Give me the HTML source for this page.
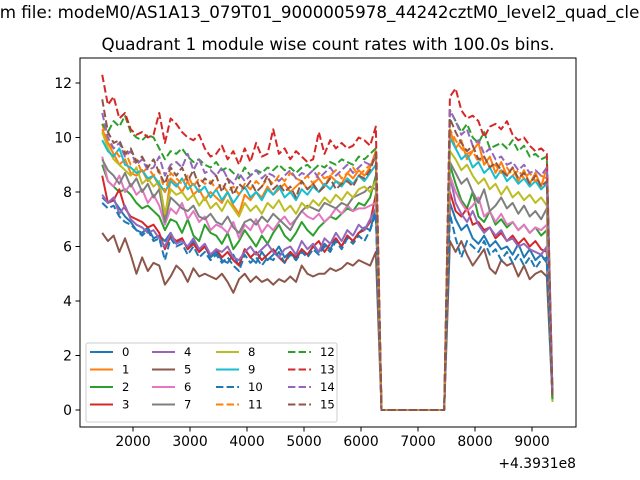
<!DOCTYPE html>
<html><head><meta charset="utf-8">
<style>
html,body{margin:0;padding:0;background:#fff;}
#wrap{position:relative;width:640px;height:480px;overflow:hidden;font-family:"DejaVu Sans","Liberation Sans",sans-serif;}
svg text{font-family:"DejaVu Sans","Liberation Sans",sans-serif;}
</style></head>
<body>
<div id="wrap">
<svg id="chart" width="640" height="480" viewBox="0 0 640 480">
<text id="suptitle" x="-87" y="18" font-size="16.7" text-anchor="start">Plotted from file: modeM0/AS1A13_079T01_9000005978_44242cztM0_level2_quad_clean.evt</text>
<text x="328" y="50" font-size="16.7" text-anchor="middle">Quadrant 1 module wise count rates with 100.0s bins.</text>
<defs><clipPath id="clip"><rect x="80" y="58" width="496" height="369"/></clipPath></defs>
<g id="series" clip-path="url(#clip)"></g>
<rect x="80" y="58" width="496" height="369" fill="none" stroke="#000" stroke-width="1"/>
<g id="xaxis"></g>
<g id="yaxis"></g>
<text x="576" y="468" font-size="13.9" text-anchor="end">+4.3931e8</text>
<g id="legend"></g>
</svg>
</div>
<script>
const tStart = 1460;
const tStep = 100;
const xTicks = [2000,3000,4000,5000,6000,7000,8000,9000];
const yTicks = [0,2,4,6,8,10,12];
const seriesNames = ["0","1","2","3","4","5","6","7","8","9","10","11","12","13","14","15"];
const gapZeros = 12;
const pre0=[7.8,7.6,7.7,7.4,7.1,6.9,6.6,6.5,6.7,6.3,6.4,6.2,6.5,6.1,6.3,5.9,6.2,5.8,6.0,5.6,5.8,5.5,5.4,5.7,5.3,5.9,5.6,5.4,5.8,5.5,5.7,6.0,5.6,5.8,5.5,5.9,5.7,6.0,5.8,6.1,5.9,6.3,6.0,6.4,6.2,6.5,6.7,6.6,7.4];
const post0=[7.6,7.0,6.6,6.8,6.3,6.1,6.4,6.0,6.2,5.9,6.0,5.7,6.1,5.6,5.9,5.5,5.7,5.4,0.5];
const pre1=[10.3,9.8,9.4,9.0,9.2,8.7,8.6,8.8,8.4,8.6,8.2,7.0,8.5,8.3,8.0,8.4,7.9,8.1,7.7,8.0,7.8,7.6,8.0,7.5,7.2,7.9,7.7,8.0,7.8,8.2,7.9,8.1,8.3,8.0,8.2,8.4,8.1,8.3,8.5,8.2,8.6,8.4,8.3,8.7,8.5,8.8,8.6,8.9,9.5];
const post1=[10.3,9.6,9.9,9.2,9.5,9.8,9.0,9.3,8.7,9.1,8.6,8.9,8.4,8.8,8.3,8.7,8.2,8.9,0.5];
const pre2=[9.0,8.4,8.2,8.0,8.1,7.9,7.6,7.4,7.5,7.3,7.1,6.6,7.0,6.9,6.5,7.0,6.4,6.2,6.8,6.5,6.4,6.1,6.5,5.9,6.2,6.6,6.3,6.0,6.4,6.1,6.5,6.8,6.4,6.2,6.5,6.9,6.6,6.4,6.7,6.9,7.1,7.0,7.2,7.4,7.3,7.6,7.5,7.8,8.6];
const post2=[9.0,8.3,7.7,7.4,8.0,7.1,6.9,7.3,6.8,7.0,6.7,6.9,6.6,6.8,6.5,6.7,6.4,6.6,0.4];
const pre3=[8.6,7.6,7.7,8.1,7.4,7.1,7.0,6.9,6.7,6.8,6.5,5.9,6.4,6.2,6.3,5.9,6.1,5.8,6.0,5.7,5.9,5.6,5.8,5.5,5.3,5.9,5.6,5.8,5.5,5.7,5.9,5.6,5.4,5.8,5.6,5.9,5.7,6.0,6.2,5.8,6.1,6.3,6.0,6.4,6.2,6.5,6.6,6.9,7.9];
const post3=[8.0,7.3,7.1,7.4,6.8,6.9,6.6,6.7,6.3,6.5,6.2,6.4,6.1,6.3,6.0,6.2,5.9,5.8,0.4];
const pre4=[7.9,7.6,7.8,7.2,7.5,7.0,6.8,6.7,6.5,6.6,6.3,6.0,6.5,6.1,6.2,6.0,6.3,5.9,6.1,5.7,5.9,5.8,6.0,5.6,5.5,5.8,6.0,5.7,5.9,6.1,5.8,5.6,5.9,6.0,5.7,6.2,5.9,6.1,5.8,6.3,6.1,6.5,6.2,6.6,6.4,6.8,6.6,7.0,7.4];
const post4=[8.6,7.6,7.2,6.9,7.3,6.8,6.5,6.7,6.4,6.6,6.2,6.3,6.0,6.1,5.9,5.8,5.7,6.0,0.5];
const pre5=[6.5,6.2,6.4,5.8,6.3,5.7,5.0,5.6,5.1,5.4,5.3,4.6,4.9,5.3,5.1,4.7,5.2,4.9,5.0,4.9,4.8,5.0,4.7,4.3,4.8,5.0,4.7,4.9,4.7,4.8,4.6,4.8,4.7,4.9,4.7,5.3,5.0,4.9,5.0,5.0,5.2,5.1,5.2,5.4,5.3,5.5,5.4,5.3,5.8];
const post5=[6.2,5.8,6.2,5.7,5.3,5.6,5.9,5.2,5.0,5.5,5.3,5.4,4.9,5.3,4.8,5.0,5.1,4.9,0.4];
const pre6=[9.3,8.4,8.2,8.6,8.0,8.3,7.9,8.1,7.6,7.9,7.5,6.8,7.4,7.2,7.6,7.0,7.3,6.9,7.1,6.6,6.8,6.7,6.5,6.9,6.3,6.8,6.6,7.0,6.5,6.8,6.6,6.9,7.1,6.8,7.0,7.3,7.1,7.0,7.2,6.9,7.1,7.4,7.2,7.5,7.3,7.4,7.4,7.5,7.6];
const post6=[8.6,8.0,7.6,7.3,7.5,7.8,7.1,7.3,6.9,7.2,6.8,6.9,6.6,6.8,6.5,6.7,6.6,6.8,0.3];
const pre7=[9.2,8.8,8.6,8.3,8.7,8.2,8.5,8.0,8.3,7.8,8.1,6.9,7.8,7.6,7.4,7.3,7.5,7.1,7.0,7.2,6.9,6.8,7.1,6.7,6.5,6.9,7.0,6.8,7.1,6.9,7.2,7.0,6.8,6.6,7.0,7.3,7.5,7.4,7.3,7.6,7.5,7.4,7.6,7.5,7.8,7.9,8.0,8.2,8.1];
const post7=[9.1,8.7,8.3,8.5,8.0,7.6,8.1,7.3,7.5,7.8,7.4,7.6,7.2,7.5,7.1,7.3,7.0,7.4,0.3];
const pre8=[10.2,9.6,9.2,9.0,8.8,8.6,8.9,8.3,8.5,8.2,8.4,7.2,8.1,7.9,8.0,7.7,7.9,7.5,7.8,7.4,7.6,7.3,7.7,7.4,7.1,7.6,7.3,7.5,7.2,7.6,7.4,7.7,7.3,7.5,7.2,7.6,7.4,7.7,7.5,7.8,7.6,7.9,7.7,8.0,7.8,8.1,8.2,8.0,8.4];
const post8=[9.5,9.2,8.8,9.0,8.6,8.3,8.5,8.1,8.3,7.9,8.2,7.8,8.0,7.7,7.9,7.6,7.8,7.5,0.3];
const pre9=[9.9,9.5,9.3,9.6,9.0,8.9,8.7,8.8,8.5,8.6,8.3,8.0,8.4,8.2,8.5,8.1,8.3,8.0,8.2,7.8,8.1,7.7,8.0,7.6,7.9,8.2,7.8,8.0,7.7,8.1,7.9,8.2,7.8,8.0,7.7,8.1,7.9,8.2,8.0,8.3,8.1,8.4,8.2,8.5,8.3,8.6,8.4,8.7,9.0];
const post9=[10.0,9.6,9.2,9.4,8.9,9.1,8.7,8.9,8.5,8.8,8.4,8.6,8.3,8.5,8.2,8.4,8.1,8.3,0.4];
const pre10=[7.6,7.4,7.5,7.1,6.9,6.8,6.6,6.4,6.6,6.2,6.3,5.5,6.3,6.0,6.1,5.7,6.0,5.6,5.8,5.5,5.7,5.4,5.6,5.3,5.1,5.7,5.4,5.6,5.3,5.6,5.5,5.8,5.4,5.7,5.5,5.8,5.6,5.9,5.7,6.0,5.8,6.2,5.9,6.3,6.1,6.4,6.2,6.6,7.2];
const post10=[7.2,6.3,5.6,6.2,6.0,5.8,6.2,5.7,5.9,5.5,5.8,5.4,5.7,5.3,5.6,5.2,5.5,5.6,0.4];
const pre11=[10.5,9.8,9.6,9.3,9.5,9.0,9.2,8.7,8.9,8.6,8.8,8.0,8.7,8.5,8.3,8.6,8.2,8.5,8.3,8.4,8.1,8.3,8.0,8.2,7.9,8.3,8.1,8.4,8.2,8.5,8.3,8.6,8.4,8.7,8.5,8.4,8.6,8.3,8.7,8.5,8.6,8.8,8.5,8.7,8.9,8.6,8.8,9.0,9.2];
const post11=[10.3,9.9,9.6,9.4,9.5,9.1,9.3,8.9,9.0,8.7,8.9,8.6,8.8,8.5,8.7,8.4,8.6,8.5,0.5];
const pre12=[10.5,10.2,10.6,10.4,10.8,10.2,10.0,9.9,10.1,10.0,9.6,9.2,9.5,9.4,9.6,9.3,9.1,9.2,9.0,8.9,9.1,8.8,8.9,8.7,8.5,8.9,8.6,8.8,8.7,8.9,8.8,9.0,8.8,8.9,8.7,8.9,9.0,8.8,9.0,8.9,9.1,9.0,9.2,9.1,9.0,9.3,9.2,9.4,9.6];
const post12=[11.0,10.6,10.2,10.5,10.0,9.8,10.2,9.6,9.7,9.8,9.6,9.9,9.5,9.7,9.3,9.4,9.2,9.3,0.4];
const pre13=[12.3,11.2,11.5,10.7,10.9,10.3,10.1,10.2,10.0,10.1,10.9,9.8,10.7,10.5,10.2,10.0,9.9,10.1,9.6,9.3,9.4,9.7,9.2,9.5,9.0,9.6,9.1,9.8,9.3,9.4,10.3,9.4,9.6,9.2,9.5,9.3,9.1,9.2,10.2,9.4,9.9,9.6,9.8,9.6,9.7,10.0,9.9,9.7,10.4];
const post13=[11.5,11.8,11.0,10.7,10.8,10.6,10.0,10.4,10.5,10.3,10.6,10.1,9.9,10.0,9.7,9.5,9.6,9.4,0.5];
const pre14=[10.9,10.0,9.6,9.8,9.3,9.5,9.0,9.2,8.8,8.9,9.3,8.6,9.0,9.1,8.9,9.4,8.8,9.2,8.7,8.8,8.6,8.9,8.5,8.3,8.7,8.4,8.6,8.8,8.5,8.7,8.6,8.4,8.6,8.8,8.5,8.7,8.6,8.8,8.5,8.7,8.9,8.6,8.8,9.0,8.7,8.9,9.1,9.0,9.3];
const post14=[11.0,10.6,10.1,10.3,9.7,9.9,9.4,9.6,9.2,9.3,9.0,9.1,8.8,9.0,8.7,8.8,8.6,8.9,0.6];
const pre15=[11.4,10.2,9.8,9.9,9.4,9.6,9.1,9.3,8.9,9.2,8.7,8.3,8.9,8.6,8.9,8.4,8.8,8.2,8.5,8.3,8.6,8.0,8.5,7.9,8.3,8.1,8.4,8.0,8.2,8.6,8.1,8.3,8.0,8.2,7.8,8.4,8.1,8.3,8.0,8.2,8.5,8.1,8.3,8.4,8.2,8.6,8.5,8.8,9.4];
const post15=[10.7,10.2,9.8,9.5,9.7,9.2,9.3,8.9,9.1,8.8,8.6,8.9,8.5,8.7,8.3,8.6,8.2,8.4,0.5];
const preAll=[pre0,pre1,pre2,pre3,pre4,pre5,pre6,pre7,pre8,pre9,pre10,pre11,pre12,pre13,pre14,pre15];
const postAll=[post0,post1,post2,post3,post4,post5,post6,post7,post8,post9,post10,post11,post12,post13,post14,post15];

const colors=["#1f77b4","#ff7f0e","#2ca02c","#d62728","#9467bd","#8c564b","#e377c2","#7f7f7f","#bcbd22","#17becf"];
const NS="http://www.w3.org/2000/svg";
function xScale(t){return 133+(t-2000)*0.057;}
function yScale(v){return 410-v*27.25;}
function mk(tag,attrs,parent){const e=document.createElementNS(NS,tag);for(const k in attrs)e.setAttribute(k,attrs[k]);parent.appendChild(e);return e;}

const gS=document.getElementById('series');
for(let s=0;s<16;s++){
  const vals=preAll[s].concat(new Array(gapZeros).fill(0),postAll[s]);
  let d='';
  vals.forEach((v,i)=>{d+=(i?'L':'M')+xScale(tStart+i*tStep).toFixed(2)+' '+yScale(v).toFixed(2);});
  const p=mk('path',{d:d,fill:'none',stroke:colors[s%10],'stroke-width':2,'stroke-linejoin':'round'},gS);
  if(s>=10)p.setAttribute('stroke-dasharray','7.4 3.2');
  
  
}
const gx=document.getElementById('xaxis');
xTicks.forEach(t=>{
  const x=xScale(t);
  const l=mk('line',{x1:x,x2:x,y1:427,y2:431.5,stroke:'#000','stroke-width':1},gx);
  
  
  const tx=mk('text',{x:x,y:446,'font-size':13.9,'text-anchor':'middle'},gx);
  tx.textContent=t;
  
  
});
const gy=document.getElementById('yaxis');
yTicks.forEach(v=>{
  const y=yScale(v);
  const l=mk('line',{x1:75.5,x2:80,y1:y,y2:y,stroke:'#000','stroke-width':1},gy);
  
  
  const tx=mk('text',{x:72,y:y+5,'font-size':13.9,'text-anchor':'end'},gy);
  tx.textContent=v;
  
  
});
const gL=document.getElementById('legend');
const box=mk('rect',{x:86,y:343,width:251,height:79,rx:2,fill:'#fff','fill-opacity':0.8,stroke:'#cccccc','stroke-width':1},gL);


const colX=[90,152,216,288];
const rowY=[352,369.5,387,404.5];
for(let s=0;s<16;s++){
  const c=Math.floor(s/4), r=s%4;
  const x=colX[c], y=rowY[r];
  const ln=mk('line',{x1:x,x2:x+23,y1:y,y2:y,stroke:colors[s%10],'stroke-width':2},gL);
  if(s>=10)ln.setAttribute('stroke-dasharray','7.4 3.2');
  
  
  const tx=mk('text',{x:x+32,y:y+4,'font-size':11.6},gL);
  tx.textContent=seriesNames[s];
  
  
}
(function(){
  try{
    const st=document.getElementById('suptitle');
    const full=st.textContent;
    const idx=full.indexOf('n file:');
    const w=st.getSubStringLength(0,idx);
    if(w>20&&w<200)st.setAttribute('x',(-w-1).toFixed(1));
  }catch(e){}
})();
</script>
</body></html>
